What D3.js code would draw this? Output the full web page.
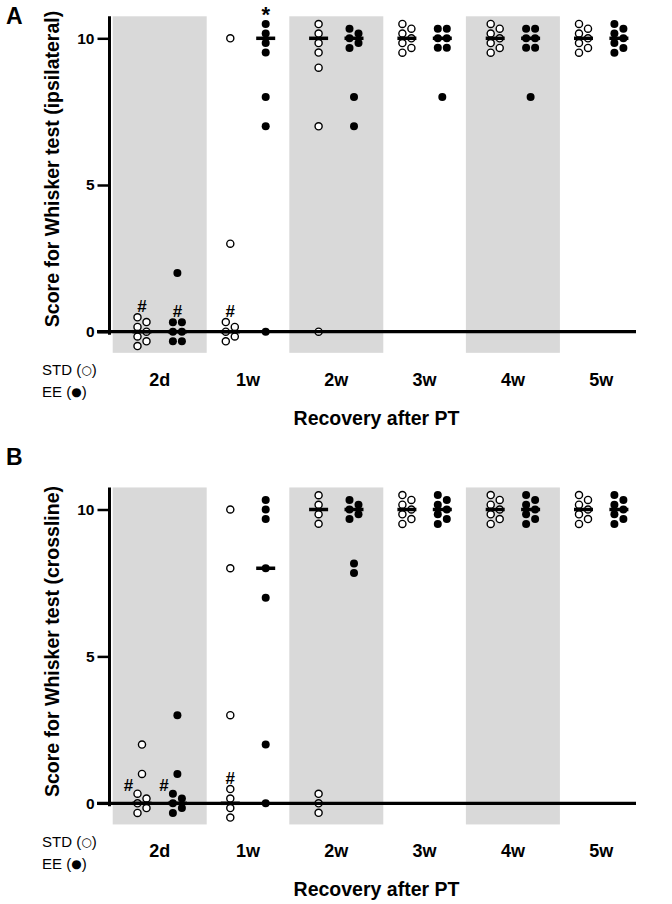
<!DOCTYPE html>
<html>
<head>
<meta charset="utf-8">
<script src="https://cdn.jsdelivr.net/npm/d3@7"></script>
<style>
  html, body { margin: 0; padding: 0; background: #fff; }
  svg { display: block; }
  text { font-family: "Liberation Sans", Arial, sans-serif; fill: #000; }
</style>
</head>
<body>
<div id="chart"></div>
<script>
// ---------------- DATA ----------------
const categories = ["2d", "1w", "2w", "3w", "4w", "5w"];
const groups = ["STD", "EE"];
const shadedCategories = ["2d", "2w", "4w"];
const yTicks = [0, 5, 10];

// Panel A: Score for Whisker test (ipsilateral), one array per time point
const ipsiSTD = [
  [0, 0, 0, 0, 0, 0, 0],
  [10, 3, 0, 0, 0, 0, 0],
  [10, 10, 10, 10, 9, 7, 0],
  [10, 10, 10, 10, 10, 10, 10],
  [10, 10, 10, 10, 10, 10, 10],
  [10, 10, 10, 10, 10, 10, 10]
];
const ipsiEE = [
  [2, 0, 0, 0, 0, 0, 0],
  [10, 10, 10, 10, 8, 7, 0],
  [10, 10, 10, 10, 10, 8, 7],
  [10, 10, 10, 10, 10, 10, 8],
  [10, 10, 10, 10, 10, 10, 8],
  [10, 10, 10, 10, 10, 10, 10]
];
// Panel B: Score for Whisker test (crossline)
const crossSTD = [
  [2, 1, 0, 0, 0, 0, 0],
  [10, 8, 3, 0, 0, 0, 0],
  [10, 10, 10, 10, 0, 0, 0],
  [10, 10, 10, 10, 10, 10, 10],
  [10, 10, 10, 10, 10, 10, 10],
  [10, 10, 10, 10, 10, 10, 10]
];
const crossEE = [
  [3, 1, 0, 0, 0, 0, 0],
  [10, 10, 10, 8, 7, 2, 0],
  [10, 10, 10, 10, 10, 8, 8],
  [10, 10, 10, 10, 10, 10, 10],
  [10, 10, 10, 10, 10, 10, 10],
  [10, 10, 10, 10, 10, 10, 10]
];
// Significance marks: which cluster (category, group, score) they sit next to
const ipsiMarks = [
  { cat: "2d", group: "STD", score: 0, mark: "#", place: "above" },
  { cat: "2d", group: "EE", score: 0, mark: "#", place: "above" },
  { cat: "1w", group: "STD", score: 0, mark: "#", place: "above" },
  { cat: "1w", group: "EE", score: 10, mark: "*", place: "above" }
];
const crossMarks = [
  { cat: "2d", group: "STD", score: 0, mark: "#", place: "left" },
  { cat: "2d", group: "EE", score: 0, mark: "#", place: "left" },
  { cat: "1w", group: "STD", score: 0, mark: "#", place: "above" }
];

const panels = [
  { letter: "A", yLabel: "Score for Whisker test (ipsilateral)", STD: ipsiSTD, EE: ipsiEE, marks: ipsiMarks,
    y0: 331.7, y10: 38.3, letterY: 23.5, yLabelCY: 169 },
  { letter: "B", yLabel: "Score for Whisker test (crossline)", STD: crossSTD, EE: crossEE, marks: crossMarks,
    y0: 803.3, y10: 509.5, letterY: 465, yLabelCY: 641.5 }
];

// ---------------- LAYOUT ----------------
const W = 672, H = 904;
const svg = d3.select("#chart").append("svg").attr("width", W).attr("height", H);
svg.append("rect").attr("width", W).attr("height", H).attr("fill", "#fff");

const x = d3.scaleBand().domain(categories).range([115.55, 645.35]).padding(0);
const gx = d3.scalePoint().domain(groups).range([-17.7, 17.7]);
const cx = c => x(c) + x.bandwidth() / 2;

const DOT_R = 4, COL_STEP = 9.5, ZIG_STEP = 4.8, DX = 4.5;

// offsets for n identical values
function clusterOffsets(n) {
  const out = [];
  if (n <= 4) {
    for (let k = 0; k < n; k++) out.push([0, (k - (n - 1) / 2) * COL_STEP]);
  } else if (n === 6) {
    for (let k = 0; k < n; k++) out.push([k % 2 ? DX : -DX, (Math.floor(k / 2) - 1) * COL_STEP]);
  } else {
    for (let k = 0; k < n; k++) out.push([k % 2 ? DX : -DX, (k - (n - 1) / 2) * ZIG_STEP]);
  }
  return out;
}

panels.forEach(p => {
  const y = d3.scaleLinear().domain([0, 10]).range([p.y0, p.y10]);
  const g = svg.append("g");

  // shaded bands
  g.selectAll("rect.band").data(shadedCategories).join("rect")
    .attr("class", "band")
    .attr("x", d => cx(d) - 47).attr("width", 94)
    .attr("y", y(10.75)).attr("height", y(-0.72) - y(10.75))
    .attr("fill", "#d9d9d9");

  // points
  const pts = [];
  const clusterTop = {};
  categories.forEach((c, i) => {
    groups.forEach(gr => {
      const vals = p[gr][i];
      const counts = d3.rollup(vals, v => v.length, v => v);
      counts.forEach((n, v) => {
        const offs = clusterOffsets(n);
        offs.forEach(o => pts.push({ c, gr, v, px: cx(c) + gx(gr) + o[0], py: y(v) + o[1] }));
        clusterTop[c + gr + v] = { top: y(v) + d3.min(offs, o => o[1]), left: cx(c) + gx(gr) + d3.min(offs, o => o[0]) };
      });
    });
  });

  g.selectAll("circle.pt").data(pts).join("circle")
    .attr("class", "pt")
    .attr("cx", d => d.px).attr("cy", d => d.py)
    .attr("r", d => d.gr === "STD" ? DOT_R - 0.45 : DOT_R)
    .attr("fill", d => d.gr === "STD" ? "#fff" : "#000")
    .attr("stroke", "#000")
    .attr("stroke-width", d => d.gr === "STD" ? 1.4 : 0);

  // medians
  const meds = [];
  categories.forEach((c, i) => groups.forEach(gr => meds.push({ c, gr, m: d3.median(p[gr][i]) })));
  g.selectAll("rect.med").data(meds).join("rect")
    .attr("class", "med")
    .attr("x", d => cx(d.c) + gx(d.gr) - 9.5).attr("width", 19)
    .attr("y", d => y(d.m) - 1.75).attr("height", 3.5)
    .attr("fill", "#000");

  // zero line
  g.append("line")
    .attr("x1", 97).attr("x2", 636)
    .attr("y1", y(0)).attr("y2", y(0))
    .attr("stroke", "#000").attr("stroke-width", 3.3);

  // y axis
  const axisG = g.append("g").attr("transform", "translate(109.5,0)")
    .call(d3.axisLeft(y).tickValues(yTicks).tickSize(12).tickSizeOuter(0).tickPadding(3));
  axisG.select(".domain").remove();
  axisG.selectAll(".tick line").attr("stroke", "#000").attr("stroke-width", 2.5);
  axisG.selectAll(".tick text")
    .attr("font-family", "Liberation Sans, Arial, sans-serif")
    .attr("font-size", 15.5).attr("font-weight", "bold").attr("fill", "#000");
  g.append("line")
    .attr("x1", 109.5).attr("x2", 109.5)
    .attr("y1", y(10.75)).attr("y2", y(0) + 3)
    .attr("stroke", "#000").attr("stroke-width", 3);

  // marks
  g.selectAll("text.mark").data(p.marks).join("text")
    .attr("class", "mark")
    .attr("text-anchor", "middle")
    .attr("font-weight", "bold")
    .attr("font-size", d => d.mark === "*" ? 22 : 17)
    .attr("x", d => {
      const ct = clusterTop[d.cat + d.group + d.score];
      return d.place === "left" ? ct.left - 9 : cx(d.cat) + gx(d.group);
    })
    .attr("y", d => {
      const ct = clusterTop[d.cat + d.group + d.score];
      if (d.mark === "*") return ct.top - 14 + 12;
      if (d.place === "left") return ct.top - 8.7 + 6;
      return ct.top - 11 + 6;
    })
    .text(d => d.mark);

  // category labels
  g.selectAll("text.cat").data(categories).join("text")
    .attr("class", "cat")
    .attr("x", d => cx(d)).attr("y", p.y0 + 54)
    .attr("text-anchor", "middle").attr("font-weight", "bold").attr("font-size", 18)
    .text(d => d);

  // legend text
  const l1 = g.append("text").attr("x", 42).attr("y", p.y0 + 43.5).attr("font-size", 15);
  l1.append("tspan").text("STD (");
  l1.append("tspan").attr("font-size", 12).attr("font-family", "DejaVu Sans").attr("dy", -1).text("○");
  l1.append("tspan").attr("dy", 1).text(")");
  const l2 = g.append("text").attr("x", 42).attr("y", p.y0 + 65.5).attr("font-size", 15);
  l2.append("tspan").text("EE (");
  l2.append("tspan").attr("font-size", 12).attr("font-family", "DejaVu Sans").attr("dy", -1).text("●");
  l2.append("tspan").attr("dy", 1).text(")");

  // x title
  g.append("text")
    .attr("x", 376.5).attr("y", p.y0 + 93)
    .attr("text-anchor", "middle").attr("font-weight", "bold").attr("font-size", 19.5)
    .text("Recovery after PT");

  // y title
  g.append("text")
    .attr("transform", `translate(59,${p.yLabelCY}) rotate(-90)`)
    .attr("text-anchor", "middle").attr("font-weight", "bold").attr("font-size", 19.5)
    .text(p.yLabel);

  // panel letter
  g.append("text")
    .attr("x", 6).attr("y", p.letterY)
    .attr("font-weight", "bold").attr("font-size", 23)
    .text(p.letter);
});
</script>
</body>
</html>
